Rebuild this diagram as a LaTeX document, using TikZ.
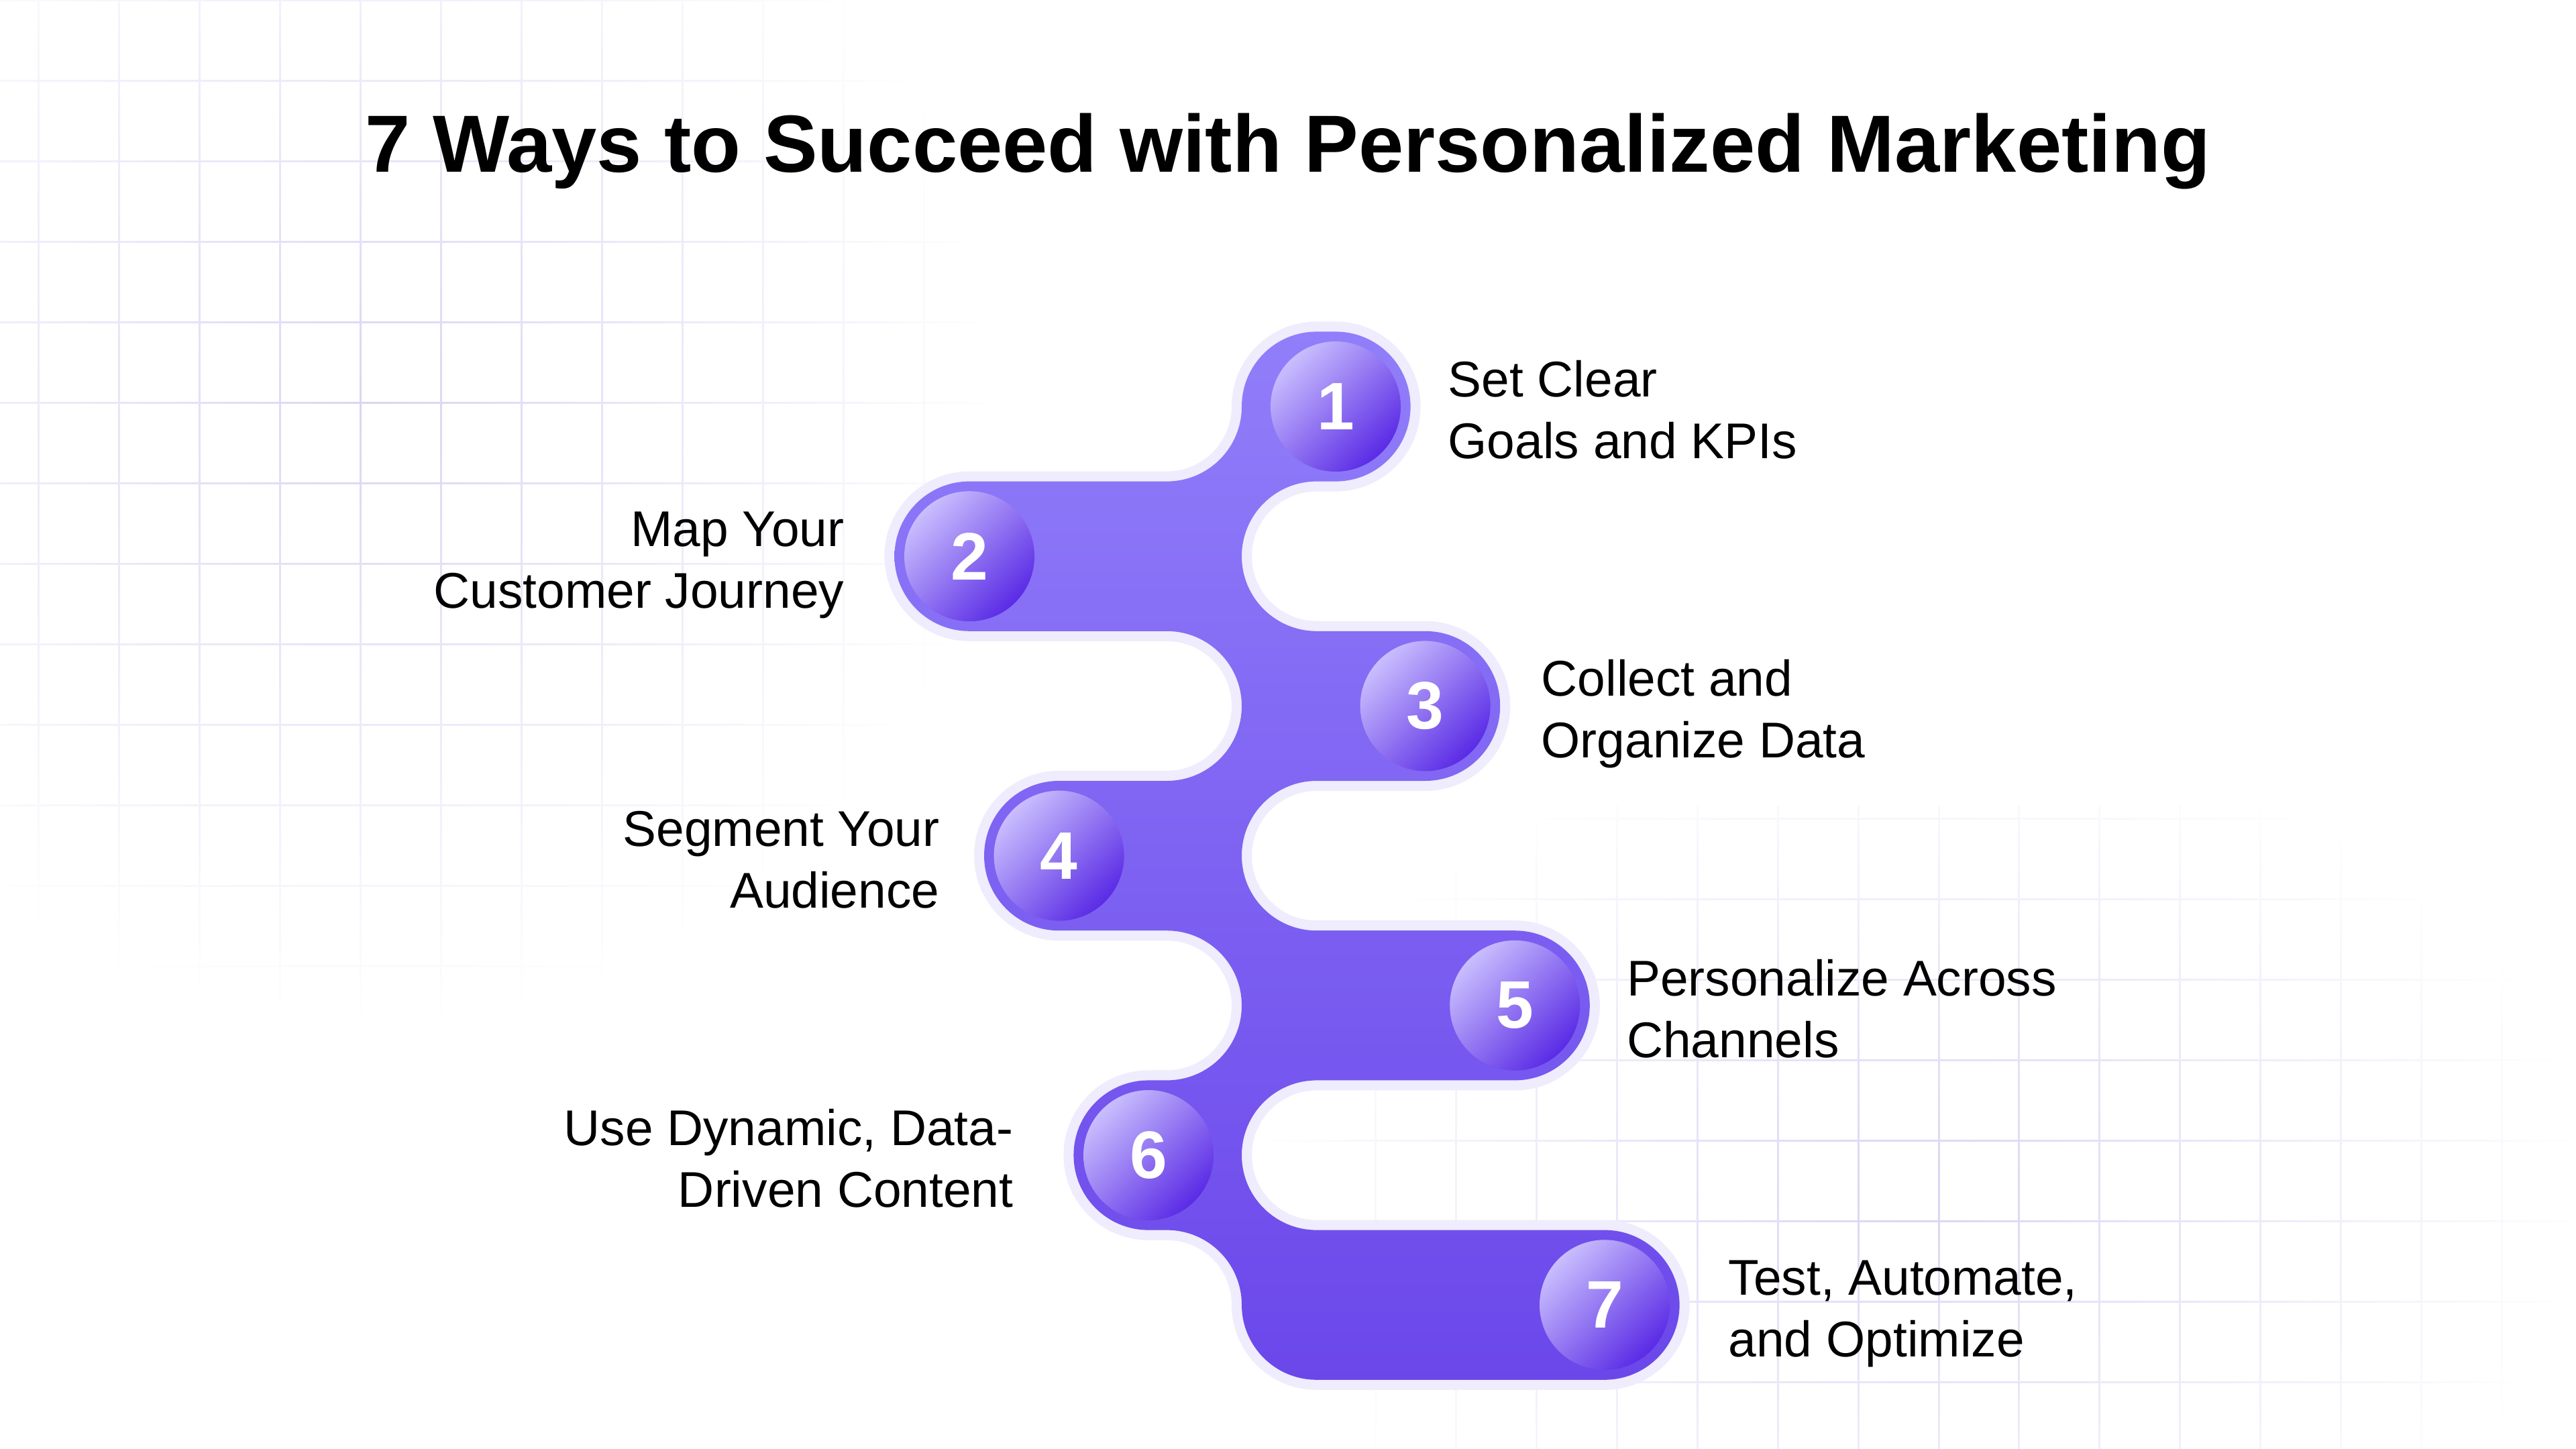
\documentclass[tikz,border=0pt]{standalone}
\usepackage{fontspec}
\setmainfont{Liberation Sans}
\usetikzlibrary{fadings}

\definecolor{RibbonTop}{HTML}{917EFA}
\definecolor{RibbonBot}{HTML}{6B47EA}
\definecolor{RibbonRim}{HTML}{EFECFD}
\definecolor{DotLight}{HTML}{C9BEFE}
\definecolor{DotDark}{HTML}{5A2BE5}
\definecolor{GridLine}{HTML}{DAD5F4}

\tikzfading[name=gridfade, inner color=transparent!0, outer color=transparent!100]

\begin{document}
\begin{tikzpicture}[x=1cm,y=1cm,font=\fontsize{21.3}{26.1}\selectfont,
  gridline/.style={draw=GridLine, line width=0.03cm},
  stepdot/.style={circle, minimum size=1.94cm, inner sep=0pt, top color=DotLight,
    bottom color=DotDark, shading angle=45, text=white,
    font=\fontsize{28.5}{30}\selectfont\bfseries},
  lblleft/.style={anchor=base west, align=left, inner sep=0pt},
  lblright/.style={anchor=base east, align=right, inner sep=0pt}]
  \fill[white] (0,0) rectangle (38.4,-21.59);
  \useasboundingbox (0,0) rectangle (38.4,-21.59);

  \draw[gridline, path fading=gridfade, fit fading=false,
    fading transform={shift={(5.6,-6.0)}, scale=10.5}]
    \foreach \gx in {0,...,11} {(0.58+1.2*\gx,0) -- (0.58+1.2*\gx,-16)}
    \foreach \gy in {0,...,13} {(0,-1.2*\gy) -- (15,-1.2*\gy)};
  \draw[gridline, path fading=gridfade, fit fading=false,
    fading transform={shift={(28.6,-17.8)}, xscale=11.3, yscale=7.9}]
    \foreach \gx in {0,...,14} {(20.52+1.2*\gx,-12.0) -- (20.52+1.2*\gx,-21.59)}
    \foreach \gy in {0,...,7} {(19,-12.2-1.2*\gy) -- (38.4,-12.2-1.2*\gy)};

  \node[anchor=base, font=\fontsize{34.4}{40}\selectfont\bfseries] (title) at (19.2,-2.56)
    {7 Ways to Succeed with Personalized Marketing};

  \shade[top color=RibbonTop, bottom color=RibbonBot,
    preaction={draw=RibbonRim, line width=0.3cm}]
    (18.51,-6.06) arc[start angle=180, end angle=90, radius=1.116]
    -- (19.91,-4.944) arc[start angle=90, end angle=-90, radius=1.116]
    -- (19.626,-7.176) arc[start angle=90, end angle=270, radius=1.116]
    -- (21.246,-9.408) arc[start angle=90, end angle=-90, radius=1.116]
    -- (19.626,-11.64) arc[start angle=90, end angle=270, radius=1.116]
    -- (22.582,-13.872) arc[start angle=90, end angle=-90, radius=1.116]
    -- (19.626,-16.104) arc[start angle=90, end angle=270, radius=1.116]
    -- (23.92,-18.336) arc[start angle=90, end angle=-90, radius=1.116]
    -- (19.626,-20.568) arc[start angle=270, end angle=180, radius=1.116]
    arc[start angle=0, end angle=90, radius=1.116]
    -- (17.12,-18.336) arc[start angle=270, end angle=90, radius=1.116]
    -- (17.394,-16.104) arc[start angle=-90, end angle=90, radius=1.116]
    -- (15.786,-13.872) arc[start angle=270, end angle=90, radius=1.116]
    -- (17.394,-11.64) arc[start angle=-90, end angle=90, radius=1.116]
    -- (14.45,-9.408) arc[start angle=270, end angle=90, radius=1.116]
    -- (17.394,-7.176) arc[start angle=-90, end angle=0, radius=1.116]
    -- cycle;

  \foreach \n/\cx/\cy in {1/19.91/-6.06, 2/14.45/-8.292, 3/21.246/-10.524,
    4/15.786/-12.756, 5/22.582/-14.988, 6/17.12/-17.22, 7/23.92/-19.452}
    \node[stepdot] (step\n) at (\cx,\cy) {\n};

  \node[lblleft] (lbl1) at (21.58,-6.83) {Set Clear\\Goals and KPIs};
  \node[lblright] (lbl2) at (12.59,-9.06) {Map Your\\Customer Journey};
  \node[lblleft] (lbl3) at (22.97,-11.29) {Collect and\\Organize Data};
  \node[lblright] (lbl4) at (14.01,-13.53) {Segment Your\\Audience};
  \node[lblleft] (lbl5) at (24.245,-15.76) {Personalize Across\\Channels};
  \node[lblright] (lbl6) at (15.11,-17.99) {Use Dynamic, Data-\\Driven Content};
  \node[lblleft] (lbl7) at (25.76,-20.22) {Test, Automate,\\and Optimize};
\end{tikzpicture}
\end{document}
